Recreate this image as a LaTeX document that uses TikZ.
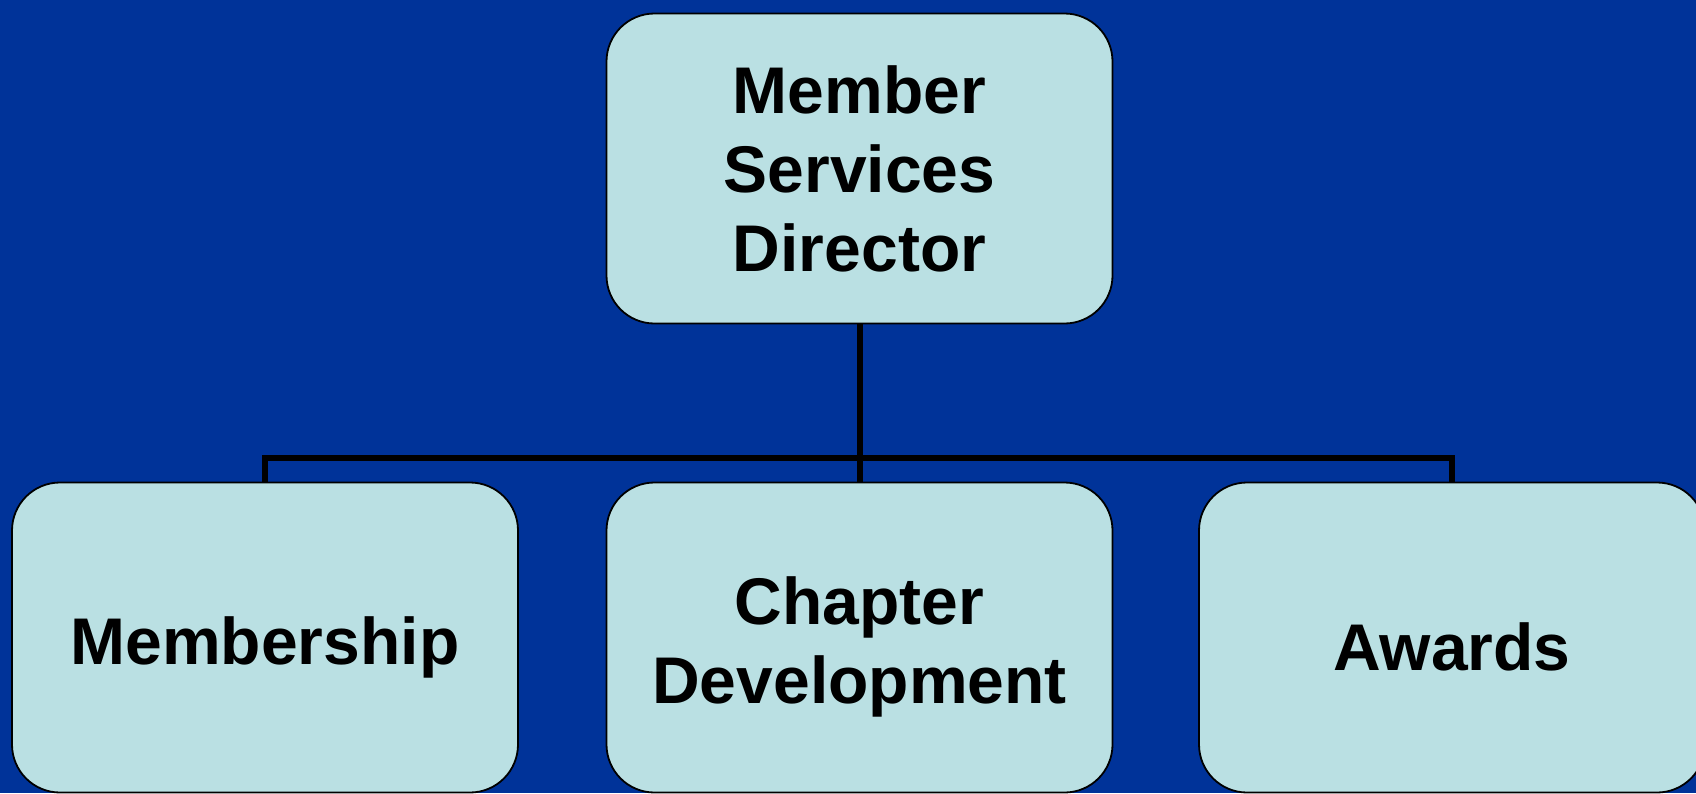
\documentclass[tikz,border=0pt]{standalone}
\usepackage{fontspec}
\setmainfont{Liberation Sans}
\usepackage{tikz}
\usetikzlibrary{positioning}
\definecolor{slideblue}{RGB}{0,51,153}
\definecolor{boxcyan}{RGB}{186,224,227}
\tikzset{
    unitbox/.style={
        rectangle,
        rounded corners=24pt,
        fill=boxcyan,
        draw=black, line width=0.9pt,
        minimum width=253pt,
        minimum height=155pt,
        text width=240pt,
        align=center,
        font={\fontsize{33pt}{39.5pt}\selectfont\bfseries},
    },
    lowrow/.style={execute at begin node={\rule{0pt}{33.5pt}}},
    link/.style={draw, line width=3pt},
}

\begin{document}
\begin{tikzpicture}[x=0.5pt,y=-0.5pt]
\fill[slideblue] (0,0) rectangle (1696,793);
\useasboundingbox (0,0) rectangle (1696,793);
\node[unitbox](director) at (859.5,168.5){Member\\Services\\Director};
\node[unitbox,lowrow](membership) at (265,637.5){Membership};
\node[unitbox,lowrow](chapter) at (859.5,637.5){Chapter\\Development};
\node[unitbox,lowrow](awards) at (1452,637.5){Awards};
\coordinate (bus) at (859.5,458);
\draw[link] (director.south) -- (bus);
\draw[link] (membership.north) |- (bus) -| (awards.north);
\draw[link] (bus) -- (chapter.north);
\end{tikzpicture}
\end{document}
